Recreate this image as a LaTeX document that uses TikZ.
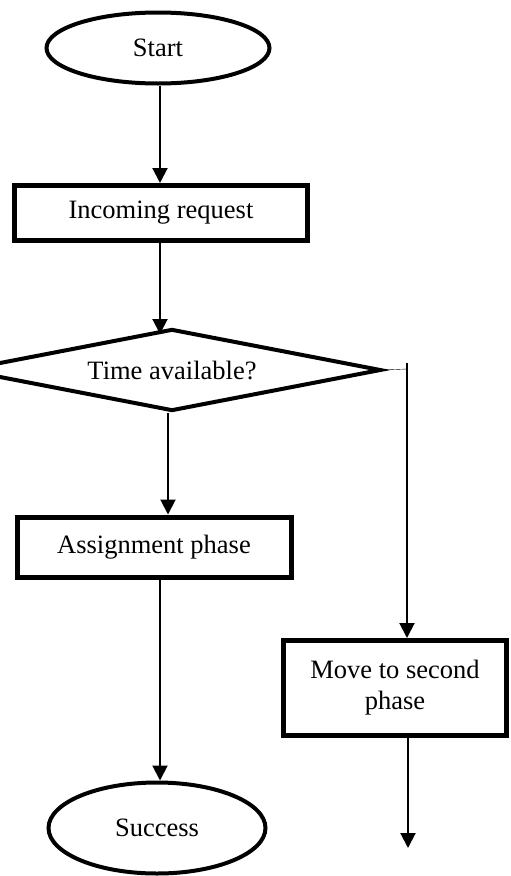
\documentclass[tikz,border=0pt]{standalone}
\usepackage{fontspec}
\setmainfont{Liberation Serif}
\usetikzlibrary{shapes.geometric, arrows.meta}

\begin{document}
\begin{tikzpicture}[x=1pt, y=-1pt, >={Triangle[length=15pt, width=15pt]},
    every node/.style={font=\fontsize{26.5}{31}\selectfont, inner sep=0pt},
    terminal/.style={draw, ellipse, line width=4pt},
    process/.style={draw, rectangle, line width=5pt, align=center},
    decision/.style={draw, diamond, line width=4pt},
    link/.style={line width=2pt}]
            \useasboundingbox (0,0) rectangle (511,876);
            % Các khối chính
            \node[terminal, minimum width=223, minimum height=71] (start) at (158,48) {Start};
            \node[process, minimum width=293, minimum height=55] (req) at (161,213) {Incoming request};
            \node[decision, minimum width=418, minimum height=82, aspect=5] (avail) at (172,370) {Time available?};
            \node[process, minimum width=274, minimum height=60] (assign) at (154,547) {Assignment phase};
            \node[terminal, minimum width=217, minimum height=91] (success) at (157,828) {Success};
            \node[process, minimum width=223, minimum height=95] (move) at (395,688) {Move to second\\phase};
            \coordinate (turn) at (407,369);
            \coordinate (stop) at (408,848);
            
            % Nhánh trái
            \draw[link, ->] ([xshift=2pt]start.south) -- ([xshift=2pt]start.south |- req.north);
            \draw[link, ->] ([xshift=-1pt]req.south) -- ([xshift=-1pt, yshift=-7pt]req.south |- avail.north);
            \draw[link, ->] ([xshift=-4pt]avail.south) -- ([xshift=-4pt]avail.south |- assign.north);
            \draw[link, ->] ([xshift=6pt]assign.south) -- ([xshift=6pt]assign.south |- success.north);
            % Nhánh phải
            \draw[thin] (avail.east) -- (turn);
            \draw[link, ->] ([yshift=6pt]turn) -- (turn |- move.north);
            \draw[link, ->] (stop |- move.south) -- (stop);
        \end{tikzpicture}
\end{document}
